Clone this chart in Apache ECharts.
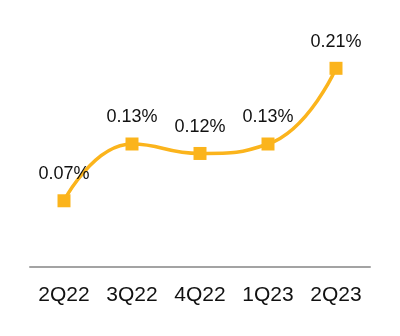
<!DOCTYPE html>
<html><head><meta charset="utf-8">
<script src="https://cdn.jsdelivr.net/npm/echarts@6/dist/echarts.min.js"></script>
<style>html,body{margin:0;padding:0;background:#fff}#c{width:400px;height:336px}</style>
</head><body><div id="c"></div>
<script>
var categories = ['2Q22', '3Q22', '4Q22', '1Q23', '2Q23'];
var values = [0.07, 0.13, 0.12, 0.13, 0.21];

var chart = echarts.init(document.getElementById('c'), null, {renderer: 'canvas'});
chart.setOption({
  animation: false,
  grid: {left: 30, right: 30, top: 21, bottom: 69},
  xAxis: {
    type: 'category',
    data: categories,
    boundaryGap: true,
    axisLine: {lineStyle: {color: '#a3a3a3', width: 2}},
    axisTick: {show: false},
    axisLabel: {color: '#111', fontSize: 21, fontFamily: 'Liberation Sans', margin: 18}
  },
  yAxis: {
    type: 'value', min: 0, max: 0.26,
    show: false, splitLine: {show: false}
  },
  series: [{
    type: 'line',
    data: values,
    smooth: 0.5,
    symbol: 'rect',
    symbolSize: 13,
    lineStyle: {color: '#fbb41c', width: 3.5},
    itemStyle: {color: '#fbb41c'},
    label: {
      show: true, position: 'top', distance: 11,
      color: '#111', fontSize: 18, fontFamily: 'Liberation Sans',
      formatter: function (p) { return p.value.toFixed(2) + '%'; }
    }
  }]
});
</script></body></html>
